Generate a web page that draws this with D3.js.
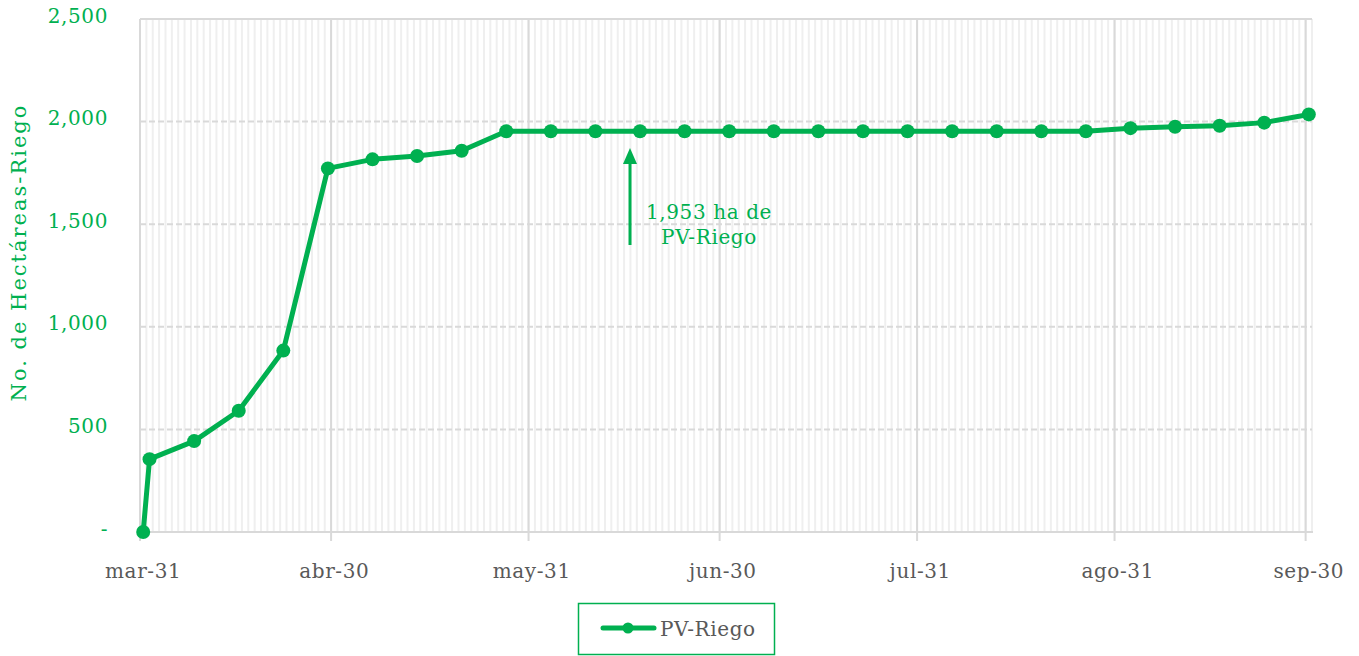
<!DOCTYPE html>
<html lang="es">
<head>
<meta charset="utf-8">
<title>PV-Riego</title>
<script src="https://d3js.org/d3.v7.min.js"></script>
<style>
  body { margin: 0; background: #fff; }
  text { font-family: "DejaVu Serif", serif; letter-spacing: 0.6px; }
</style>
</head>
<body>
<div id="chart"></div>
<script>
// fechas de corte (semanales) y hectareas acumuladas
var fechas = ["2021-03-31","2021-04-01","2021-04-08","2021-04-15","2021-04-22","2021-04-29",
  "2021-05-06","2021-05-13","2021-05-20","2021-05-27","2021-06-03","2021-06-10","2021-06-17",
  "2021-06-24","2021-07-01","2021-07-08","2021-07-15","2021-07-22","2021-07-29","2021-08-05",
  "2021-08-12","2021-08-19","2021-08-26","2021-09-02","2021-09-09","2021-09-16","2021-09-23","2021-09-30"];
var hectareas = [0, 355, 443, 591, 884, 1772, 1816, 1832, 1858, 1953, 1953, 1953, 1953,
  1953, 1953, 1953, 1953, 1953, 1953, 1953, 1953, 1953, 1953, 1968, 1975, 1980, 1995, 2035];
var serie = "PV-Riego";
var yTicks = [0, 500, 1000, 1500, 2000, 2500];
var xTickFechas = ["2021-03-31","2021-04-30","2021-05-31","2021-06-30","2021-07-31","2021-08-31","2021-09-30"];
var mesesEs = ["ene","feb","mar","abr","may","jun","jul","ago","sep","oct","nov","dic"];
var nota = ["1,953 ha de", "PV-Riego"];
var notaFecha = "2021-06-17";

var W = 1359, H = 656;
var green = "#00b050", grey = "#595959";
var margin = {left: 140, right: 47, top: 19, bottom: 124};

var parse = d3.timeParse("%Y-%m-%d");
var data = fechas.map(function(f, i){ return {d: parse(f), v: hectareas[i]}; });

var svg = d3.select("#chart").append("svg")
  .attr("width", W).attr("height", H);

var x0 = parse("2021-03-31"), x1 = parse("2021-10-01");
var x = d3.scaleTime().domain([x0, x1]).range([margin.left, W - margin.right]);
var y = d3.scaleLinear().domain([0, 2500]).range([H - margin.bottom, margin.top]);

// centro del dia (eje entre marcas)
var mid = function(d){ return x(d3.timeHour.offset(d, 12)); };

// rejilla diaria
var dias = d3.timeDay.range(x0, x1);
dias.push(x1);
svg.append("g").selectAll("line").data(dias).enter().append("line")
  .attr("x1", function(d){ return x(d); }).attr("x2", function(d){ return x(d); })
  .attr("y1", y(0)).attr("y2", y(2500))
  .attr("stroke", "#efefef").attr("stroke-width", 2);

// rejilla mensual
var mayores = xTickFechas.map(parse);
svg.append("g").selectAll("line").data(mayores).enter().append("line")
  .attr("x1", function(d){ return x(d); }).attr("x2", function(d){ return x(d); })
  .attr("y1", y(2500)).attr("y2", y(0) + 9)
  .attr("stroke", "#d9d9d9").attr("stroke-width", 2);

// rejilla horizontal
svg.append("g").selectAll("line").data(yTicks.slice(1)).enter().append("line")
  .attr("x1", x(x0)).attr("x2", x(x1))
  .attr("y1", function(d){ return y(d); }).attr("y2", function(d){ return y(d); })
  .attr("stroke", "#d9d9d9").attr("stroke-width", 2)
  .attr("stroke-dasharray", function(d){ return d === 2500 ? null : "6,3"; });
svg.append("line")
  .attr("x1", x(x0) - 1).attr("x2", x(x1) + 1).attr("y1", y(0)).attr("y2", y(0))
  .attr("stroke", "#d9d9d9").attr("stroke-width", 2);

// etiquetas eje Y
var fmt = d3.format(",");
svg.append("g").selectAll("text").data(yTicks).enter().append("text")
  .attr("x", 108).attr("y", function(d){ return y(d) - 2; })
  .attr("text-anchor", "end").attr("dominant-baseline", "middle")
  .attr("fill", green).attr("font-size", 20)
  .text(function(d){ return d === 0 ? "-" : fmt(d); });

// etiquetas eje X
svg.append("g").selectAll("text").data(mayores).enter().append("text")
  .attr("x", function(d){ return mid(d); }).attr("y", 578)
  .attr("text-anchor", "middle")
  .attr("fill", grey).attr("font-size", 20)
  .text(function(d){ return mesesEs[d.getMonth()] + "-" + d3.timeFormat("%d")(d); });

// titulo eje Y
svg.append("text")
  .attr("transform", "translate(26," + ((margin.top + H - margin.bottom) / 2 - 23) + ") rotate(-90)")
  .attr("text-anchor", "middle")
  .attr("fill", green).attr("font-size", 21).style("letter-spacing", "2px")
  .text("No. de Hectáreas-Riego");

// serie
var line = d3.line().x(function(d){ return mid(d.d); }).y(function(d){ return y(d.v); });
svg.append("path").datum(data)
  .attr("d", line).attr("fill", "none")
  .attr("stroke", green).attr("stroke-width", 5).attr("stroke-linejoin", "round");
svg.append("g").selectAll("circle").data(data).enter().append("circle")
  .attr("cx", function(d){ return mid(d.d); }).attr("cy", function(d){ return y(d.v); })
  .attr("r", 7).attr("fill", green);

// anotacion
var ax = mid(parse(notaFecha)) - 10;
svg.append("line")
  .attr("x1", ax).attr("x2", ax).attr("y1", 245).attr("y2", 160)
  .attr("stroke", green).attr("stroke-width", 3);
svg.append("path")
  .attr("d", "M" + (ax - 7) + ",164 L" + ax + ",148 L" + (ax + 7) + ",164 Z")
  .attr("fill", green);
svg.append("g").selectAll("text").data(nota).enter().append("text")
  .attr("x", 709).attr("y", function(d, i){ return 219 + i * 25; })
  .attr("text-anchor", "middle")
  .attr("fill", green).attr("font-size", 20)
  .text(function(d){ return d; });

// leyenda
var lg = svg.append("g");
lg.append("rect").attr("x", 578.5).attr("y", 603.5).attr("width", 196).attr("height", 51)
  .attr("fill", "#fff").attr("stroke", green).attr("stroke-width", 1.5);
lg.append("line").attr("x1", 603).attr("x2", 654).attr("y1", 628).attr("y2", 628)
  .attr("stroke", green).attr("stroke-width", 5).attr("stroke-linecap", "round");
lg.append("circle").attr("cx", 628).attr("cy", 628).attr("r", 5.5).attr("fill", green);
lg.append("text").attr("x", 660).attr("y", 636)
  .attr("fill", grey).attr("font-size", 20).text(serie);
</script>
</body>
</html>
